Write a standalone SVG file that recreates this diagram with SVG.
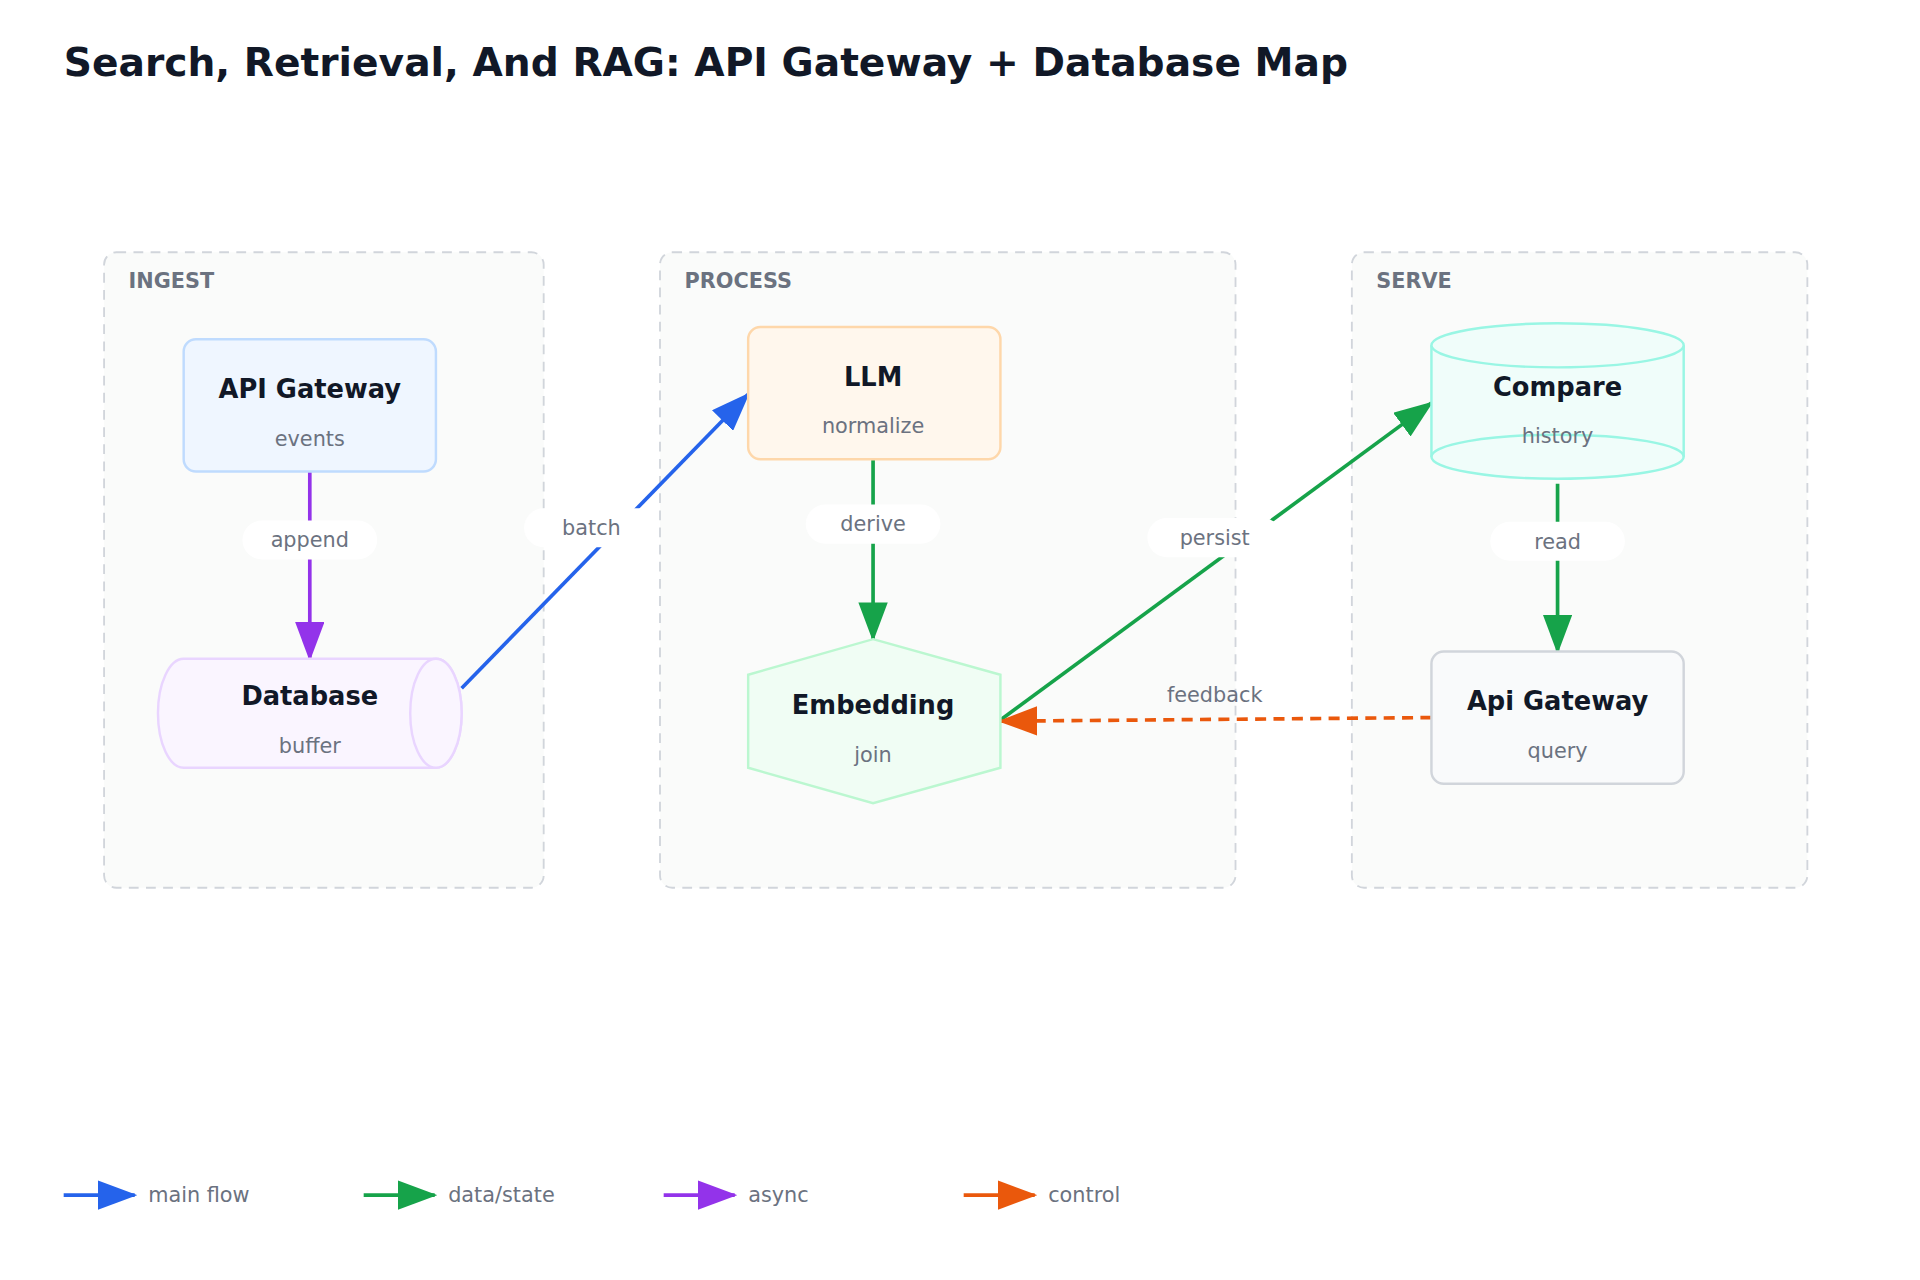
<svg xmlns="http://www.w3.org/2000/svg" width="1920" height="1280" viewBox="0 0 1920 1280">
<style>
text{font-family:"DejaVu Sans","Noto Sans",sans-serif}
.t{font-size:32px;font-weight:bold;fill:#111827}
.g{fill:#fafbfa;stroke:#d1d5db;stroke-width:1.5;stroke-dasharray:8 6}
.gl{font-size:17px;font-weight:bold;fill:#6b7280}
.nt{font-size:21px;font-weight:bold;fill:#111827;text-anchor:middle}
.ns{font-size:17px;fill:#6b7280;text-anchor:middle}
.el{font-size:17px;fill:#6b7280;text-anchor:middle}
.pill{fill:#fff}
.e{fill:none;stroke-width:3}
.lg{font-size:17px;fill:#6b7280}
</style>
<defs>
<marker id="mb" markerUnits="userSpaceOnUse" markerWidth="32" markerHeight="24" refX="30" refY="12" orient="auto"><path d="M0,0L32,12L0,24z" fill="#2563eb"/></marker>
<marker id="mg" markerUnits="userSpaceOnUse" markerWidth="32" markerHeight="24" refX="30" refY="12" orient="auto"><path d="M0,0L32,12L0,24z" fill="#16a34a"/></marker>
<marker id="mp" markerUnits="userSpaceOnUse" markerWidth="32" markerHeight="24" refX="30" refY="12" orient="auto"><path d="M0,0L32,12L0,24z" fill="#9333ea"/></marker>
<marker id="mo" markerUnits="userSpaceOnUse" markerWidth="32" markerHeight="24" refX="30" refY="12" orient="auto"><path d="M0,0L32,12L0,24z" fill="#ea580c"/></marker>
</defs>
<rect width="1920" height="1280" fill="#fff"/>
<g transform="scale(1.2245)">
<text class="t" x="52" y="62">Search, Retrieval, And RAG: API Gateway + Database Map</text>
<g id="groups">
<rect class="g" x="85" y="206" width="359" height="519" rx="10"/><text class="gl" x="105" y="235">INGEST</text>
<rect class="g" x="539" y="206" width="470" height="519" rx="10"/><text class="gl" x="559" y="235">PROCESS</text>
<rect class="g" x="1104" y="206" width="372" height="519" rx="10"/><text class="gl" x="1124" y="235">SERVE</text>
</g>
<g id="connectors">
<path class="e" d="M253,385V538" stroke="#9333ea" marker-end="url(#mp)"/>
<path class="e" d="M377,562L611,322" stroke="#2563eb" marker-end="url(#mb)"/>
<path class="e" d="M713,375V522" stroke="#16a34a" marker-end="url(#mg)"/>
<path class="e" d="M817,588L1169,329" stroke="#16a34a" marker-end="url(#mg)"/>
<path class="e" d="M1272,395V532" stroke="#16a34a" marker-end="url(#mg)"/>
<path class="e" d="M1169,586L817,589" stroke="#ea580c" stroke-dasharray="9 6" marker-end="url(#mo)"/>
<rect class="pill" x="198" y="425" width="110" height="32" rx="16"/><text class="el" x="253" y="447">append</text>
<rect class="pill" x="428" y="415" width="110" height="32" rx="16"/><text class="el" x="483" y="437">batch</text>
<rect class="pill" x="658" y="412" width="110" height="32" rx="16"/><text class="el" x="713" y="434">derive</text>
<rect class="pill" x="937" y="423" width="110" height="32" rx="16"/><text class="el" x="992" y="445">persist</text>
<rect class="pill" x="1217" y="426" width="110" height="32" rx="16"/><text class="el" x="1272" y="448">read</text>
<text class="el" x="992" y="573">feedback</text>
</g>
<g id="api-gateway"><rect x="150" y="277" width="206" height="108" rx="10" fill="#eff6ff" stroke="#bfdbfe" stroke-width="2"/><text class="nt" x="253" y="325">API Gateway</text><text class="ns" x="253" y="364">events</text></g>
<g id="database"><path d="M150,538H356A21,44.5 0 0 1 356,627H150A21,44.5 0 0 1 150,538Z" fill="#faf5ff" stroke="#e9d5ff" stroke-width="2"/><ellipse cx="356" cy="582.5" rx="21" ry="44.5" fill="#faf5ff" stroke="#e9d5ff" stroke-width="2"/><text class="nt" x="253" y="576">Database</text><text class="ns" x="253" y="615">buffer</text></g>
<g id="llm"><rect x="611" y="267" width="206" height="108" rx="10" fill="#fff7ed" stroke="#fed7aa" stroke-width="2"/><text class="nt" x="713" y="315">LLM</text><text class="ns" x="713" y="354">normalize</text></g>
<g id="embedding"><path d="M713,522L817,551V627L713,656L611,627V551Z" fill="#f0fdf4" stroke="#bbf7d0" stroke-width="2"/><text class="nt" x="713" y="583">Embedding</text><text class="ns" x="713" y="622">join</text></g>
<g id="compare"><path d="M1169,282V373A103,18 0 0 0 1375,373V282" fill="#f0fdfa" stroke="#99f6e4" stroke-width="2"/><ellipse cx="1272" cy="282" rx="103" ry="18" fill="#f0fdfa" stroke="#99f6e4" stroke-width="2"/><path d="M1169,373A103,18 0 0 1 1375,373" fill="none" stroke="#99f6e4" stroke-width="2"/><text class="nt" x="1272" y="323">Compare</text><text class="ns" x="1272" y="362">history</text></g>
<g id="api-gateway-2"><rect x="1169" y="532" width="206" height="108" rx="10" fill="#f9fafb" stroke="#d1d5db" stroke-width="2"/><text class="nt" x="1272" y="580">Api Gateway</text><text class="ns" x="1272" y="619">query</text></g>
<g id="legend">
<path class="e" d="M52,976H110" stroke="#2563eb" marker-end="url(#mb)"/><text class="lg" x="121" y="982">main flow</text>
<path class="e" d="M297,976H355" stroke="#16a34a" marker-end="url(#mg)"/><text class="lg" x="366" y="982">data/state</text>
<path class="e" d="M542,976H600" stroke="#9333ea" marker-end="url(#mp)"/><text class="lg" x="611" y="982">async</text>
<path class="e" d="M787,976H845" stroke="#ea580c" marker-end="url(#mo)"/><text class="lg" x="856" y="982">control</text>
</g>
</g>
</svg>
